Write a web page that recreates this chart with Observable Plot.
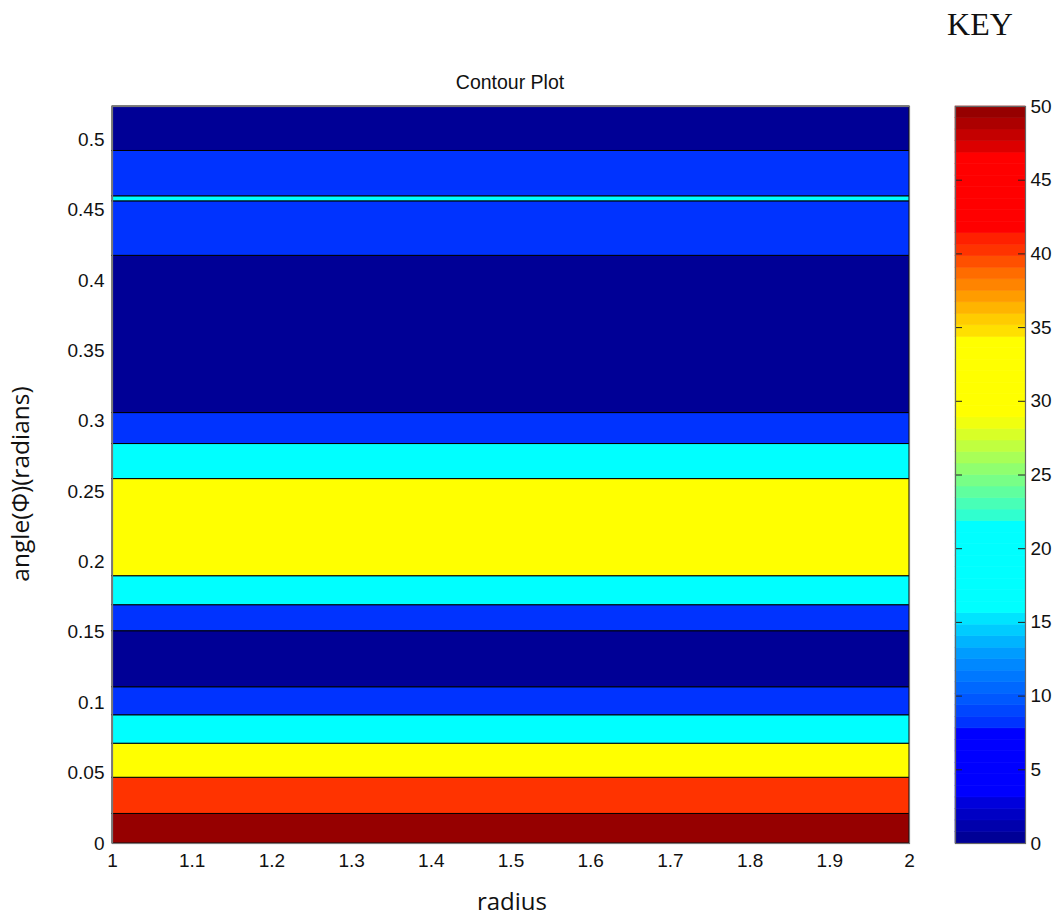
<!DOCTYPE html>
<html>
<head>
<meta charset="utf-8">
<script src="https://cdn.jsdelivr.net/npm/d3@7"></script>
<script src="https://cdn.jsdelivr.net/npm/@observablehq/plot@0.6"></script>
<style>
  html, body { margin: 0; padding: 0; background: #fff; }
  #wrap { position: relative; width: 1057px; height: 918px; overflow: hidden; background: #fff; }
  #wrap svg { position: absolute; top: 0; }
  .lbl { position: absolute; white-space: nowrap; color: #111; line-height: 1; }
</style>
</head>
<body>
<div id="wrap">
  <div class="lbl" id="key" style="left:980px; top:8px; transform:translateX(-50%); font-family:'Liberation Serif','Times New Roman',serif; font-size:32px;">KEY</div>
  <div class="lbl" id="title" style="left:510px; top:73px; transform:translateX(-50%); font-family:'Liberation Sans',Arial,sans-serif; font-size:19.5px;">Contour Plot</div>
  <div class="lbl" id="xlab" style="left:512px; top:889px; transform:translateX(-50%); font-family:'Open Sans',sans-serif; font-size:24px;">radius</div>
  <div class="lbl" id="ylab" style="left:20px; top:484px; transform:translate(-50%,-50%) rotate(-90deg); font-family:'Open Sans',sans-serif; font-size:24.5px;">angle(Φ)(radians)</div>
</div>
<script>
// ---- data ----
const radiusExtent = [1, 2];
const angleMax = 0.5236;
const xTicks = [1, 1.1, 1.2, 1.3, 1.4, 1.5, 1.6, 1.7, 1.8, 1.9, 2];
const yTicks = [0, 0.05, 0.1, 0.15, 0.2, 0.25, 0.3, 0.35, 0.4, 0.45, 0.5];

// contour bands (angle ranges) and their level values
const bandLower = [0, 0.021, 0.0467, 0.0709, 0.0911, 0.111, 0.1508, 0.1693, 0.1899, 0.2589, 0.2838, 0.3058, 0.4175, 0.4562, 0.4598, 0.492];
const bandUpper = [0.021, 0.0467, 0.0709, 0.0911, 0.111, 0.1508, 0.1693, 0.1899, 0.2589, 0.2838, 0.3058, 0.4175, 0.4562, 0.4598, 0.492, 0.5236];
const bandLevel = [49.6, 40.2, 31.6, 18.4, 8.2, 0.4, 8.2, 18.4, 31.6, 18.4, 8.2, 0.4, 8.2, 18.4, 8.2, 0.4];

// colour key
const keyMin = 0, keyMax = 50;
const keyTicks = [0, 5, 10, 15, 20, 25, 30, 35, 40, 45, 50];
const keyColors = [
  "#000096", "#0000AC", "#0000C4", "#0000DC",
  "#0000FF", "#0000FF", "#0000FF", "#0000FF", "#0000FF", "#0000FF",
  "#0033FF", "#0046FF", "#0058FF", "#0068FF", "#0078FF", "#0088FF", "#009CFF", "#00B4FF", "#00CCFF", "#00E4FF",
  "#00FFFF", "#00FFFF", "#00FFFF", "#00FFFF", "#00FFFF", "#00FFFF", "#00FFFF", "#00FFFF",
  "#30FFCF", "#48FFB7", "#60FF9F", "#78FF87", "#90FF6F", "#A8FF57", "#C0FF3F", "#D8FF27", "#F0FF0F",
  "#FFFF00", "#FFFF00", "#FFFF00", "#FFFF00", "#FFFF00", "#FFFF00", "#FFFF00",
  "#FFE000", "#FFCC00", "#FFB400", "#FF9C00", "#FF8400", "#FF6C00", "#FF5000", "#FF3300", "#FF2000",
  "#FF0000", "#FF0000", "#FF0000", "#FF0000", "#FF0000", "#FF0000", "#FF0000",
  "#DC0000", "#C40000", "#AC0000", "#960000"
];

// ---- build ----
const step = (keyMax - keyMin) / keyColors.length;
const thresholds = keyColors.slice(1).map((_, i) => keyMin + (i + 1) * step);
const keySteps = keyColors.map((c, i) => ({lo: keyMin + i * step, hi: keyMin + (i + 1) * step, mid: keyMin + (i + 0.5) * step}));
const bands = bandLower.map((lo, i) => ({lo, hi: bandUpper[i], level: bandLevel[i]}));

const colorScale = {type: "threshold", domain: thresholds, range: keyColors};
const baseStyle = {fontFamily: "'Liberation Sans', Arial, sans-serif", fontSize: "19px", color: "#111", background: "transparent", overflow: "visible"};

const main = Plot.plot({
  width: 940, height: 918,
  marginLeft: 112, marginRight: 31, marginTop: 106, marginBottom: 75,
  x: {domain: radiusExtent, ticks: xTicks, tickFormat: d => String(d), tickSize: 0, tickPadding: 10, label: null},
  y: {domain: [0, angleMax], ticks: yTicks, tickFormat: d => String(d), tickSize: 0, tickPadding: 8, label: null},
  color: colorScale,
  style: baseStyle,
  marks: [
    Plot.rect(bands, {x1: radiusExtent[0], x2: radiusExtent[1], y1: "lo", y2: "hi", fill: "level", stroke: "#000", strokeWidth: 1}),
    Plot.frame({stroke: "#777", strokeWidth: 1.2})
  ]
});
main.style.left = "0px";

const key = Plot.plot({
  width: 102, height: 918,
  marginLeft: 0, marginRight: 32, marginTop: 106, marginBottom: 75,
  x: {domain: [0, 1], axis: null},
  y: {domain: [keyMin, keyMax], ticks: keyTicks, tickFormat: d => String(d), tickSize: 0, tickPadding: 5, axis: "right", label: null},
  color: colorScale,
  style: baseStyle,
  marks: [
    Plot.rect(keySteps, {x1: 0, x2: 1, y1: "lo", y2: "hi", fill: "mid", stroke: "mid", strokeWidth: 0.6}),
    Plot.ruleY(keyTicks.slice(1, -1), {x1: 0, x2: 0.1, stroke: "#222", strokeWidth: 1}),
    Plot.ruleY(keyTicks.slice(1, -1), {x1: 0.9, x2: 1, stroke: "#222", strokeWidth: 1}),
    Plot.frame({stroke: "#666", strokeWidth: 1.2})
  ]
});
key.style.left = "955px";

const wrap = document.getElementById("wrap");
wrap.insertBefore(main, wrap.firstChild);
wrap.insertBefore(key, wrap.firstChild);
</script>
</body>
</html>
